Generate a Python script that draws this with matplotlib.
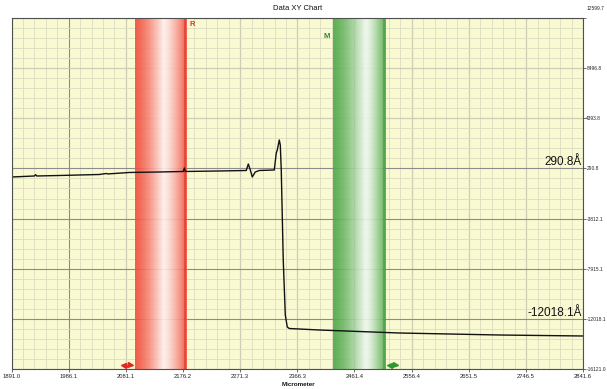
import numpy as np
import matplotlib
matplotlib.use("Agg")
import matplotlib.pyplot as plt
from matplotlib.transforms import ScaledTranslation
from matplotlib.ticker import FixedLocator, AutoMinorLocator

# ---- data ----
x_ticks = [1891.0, 1986.1, 2081.1, 2176.2, 2271.3, 2366.3, 2461.4, 2556.4, 2651.5, 2746.5, 2841.6]
x_ticklabels = ["1891.0", "1986.1", "2081.1", "2176.2", "2271.3", "2366.3",
                "2461.4", "2556.4", "2651.5", "2746.5", "2841.6"]
y_ticks = [12599.7, 8496.8, 4393.8, 290.8, -3812.1, -7915.1, -12018.1, -16121.0]
y_ticklabels = ["12599.7", "8496.8", "4393.8", "290.8", "-3812.1", "-7915.1", "-12018.1", "-16121.0"]

curve_x = [1891.0, 1929.2, 1931.0, 1933.0, 1970.8, 2037.2, 2048.9, 2051.0, 2087.1, 2137.0,
           2176.8, 2178.5, 2180.2, 2236.7, 2281.5, 2284.9, 2288.2, 2291.5, 2296.5, 2303.2,
           2328.1, 2331.4, 2333.1, 2336.4, 2338.1, 2339.7, 2343.0, 2346.4, 2349.7, 2353.0,
           2402.9, 2535.8, 2702.0, 2841.6]
curve_y = [-410, -328, -220, -328, -287, -205, -123, -160, -41, 0,
           41, 327, 41, 82, 122, 654, 163, -410, 0, 122,
           163, 1554, 1800, 2618, 2209, 163, -7200, -11700, -12684, -12807,
           -12930, -13175, -13339, -13420]

red_band = (2096.2, 2181.8)
green_band = (2425.3, 2512.5)
red_arrow_x = 2082.0
green_arrow_x = 2524.0
arrow_y = -15790.0
ann_values = ["290.8Å", "-12018.1Å"]
ann_y = [290.8, -12018.1]

narrow = ['Liberation Sans Narrow', 'Liberation Sans', 'DejaVu Sans']

fig = plt.figure(figsize=(6.07, 3.89), dpi=100)
ax = fig.add_axes([11.5 / 607, 20 / 389, 571.5 / 607, 351 / 389])
ax.set_facecolor('#fafad2')
ax.set_xlim(x_ticks[0], x_ticks[-1])
ax.set_ylim(y_ticks[-1], y_ticks[0])

# grid
ax.xaxis.set_major_locator(FixedLocator(x_ticks))
ax.yaxis.set_major_locator(FixedLocator(y_ticks))
ax.xaxis.set_minor_locator(AutoMinorLocator(5))
ax.yaxis.set_minor_locator(AutoMinorLocator(5))
ax.grid(which='minor', color='#dcdcbf', lw=0.6, zorder=0)
ax.grid(which='major', color='#8c8c8c', lw=0.8, zorder=0.5)
ax.set_axisbelow(True)

# gradient bands
def band(x0, x1, full, tmin, dark):
    t = np.linspace(0, 1, 200)
    f = np.where(t < tmin, 1 - (t / tmin) ** 1.4, ((t - tmin) / (1 - tmin)) ** 1.3)
    f = 0.08 + 0.92 * f
    full = np.array(full) / 255.0
    img = (1 - f)[:, None] * np.ones(3) + f[:, None] * full
    img = img[None, :, :]
    ax.imshow(img, extent=[x0, x1, y_ticks[-1], y_ticks[0]], aspect='auto',
              alpha=0.9, zorder=1, interpolation='bilinear')
    ax.axvline(x1 - 1.5, color=dark, lw=1.2, zorder=1.1, alpha=0.7)

band(red_band[0], red_band[1], (242, 78, 60), 0.55, '#d8302a')
band(green_band[0], green_band[1], (78, 168, 70), 0.62, '#3f9a3f')

# curve
ax.plot(curve_x, curve_y, color='#111111', lw=1.0, zorder=3)

# cursor labels
ax.text(red_band[1] + 5, y_ticks[0], 'R', color='#e0302a', fontsize=5.5, fontweight='bold',
        ha='left', va='top', family=narrow, zorder=4,
        transform=ax.transData + ScaledTranslation(0, -2.5 / 72, fig.dpi_scale_trans))
ax.text(green_band[0] - 5, y_ticks[0], 'M', color='#2e8b2e', fontsize=5.5, fontweight='bold',
        ha='right', va='top', family=narrow, zorder=4,
        transform=ax.transData + ScaledTranslation(0, -10.5 / 72, fig.dpi_scale_trans))

# arrows
for xa, col in [(red_arrow_x, '#e02a20'), (green_arrow_x, '#2e9a2e')]:
    for mk, dx in [('<', -2.4), ('>', 2.4)]:
        ax.plot([xa], [arrow_y], marker=mk, color=col, markersize=3.6, zorder=5, clip_on=False,
                transform=ax.transData + ScaledTranslation(dx / 72, 0, fig.dpi_scale_trans))

# annotations
for txt, yv in zip(ann_values, ann_y):
    ax.text(x_ticks[-1], yv, txt, fontsize=8.5, ha='right', va='bottom', color='#111111',
            family=['Liberation Sans', 'DejaVu Sans'], zorder=6,
            transform=ax.transData + ScaledTranslation(-1 / 72, 0, fig.dpi_scale_trans))

# ticks
ax.set_xticks(x_ticks)
ax.set_xticklabels(x_ticklabels, fontsize=4.2, family=narrow, color='#222222')
ax.yaxis.tick_right()
ax.set_yticks(y_ticks)
ax.set_yticklabels(y_ticklabels, fontsize=3.5, family=narrow, color='#222222')
ax.tick_params(which='major', length=2.2, width=0.6, color='#555555', pad=1.2)
ax.tick_params(axis='y', which='major', length=1.8, pad=0.6)
ax.tick_params(which='minor', length=0)
lab = ax.get_yticklabels()[0]
lab.set_transform(lab.get_transform() + ScaledTranslation(0, 7 / 72, fig.dpi_scale_trans))

for s in ax.spines.values():
    s.set_color('#505050')
    s.set_linewidth(0.8)
    s.set_zorder(7)

fig.text(298 / 607, 1 - 9 / 389, 'Data XY Chart', ha='center', va='center', fontsize=5.5,
         family=narrow, color='#111111')
fig.text(298 / 607, 1 - 385 / 389, 'Micrometer', ha='center', va='center', fontsize=4.5,
         family=narrow, fontweight='bold', color='#111111')

fig.savefig('out.png', dpi=100)
